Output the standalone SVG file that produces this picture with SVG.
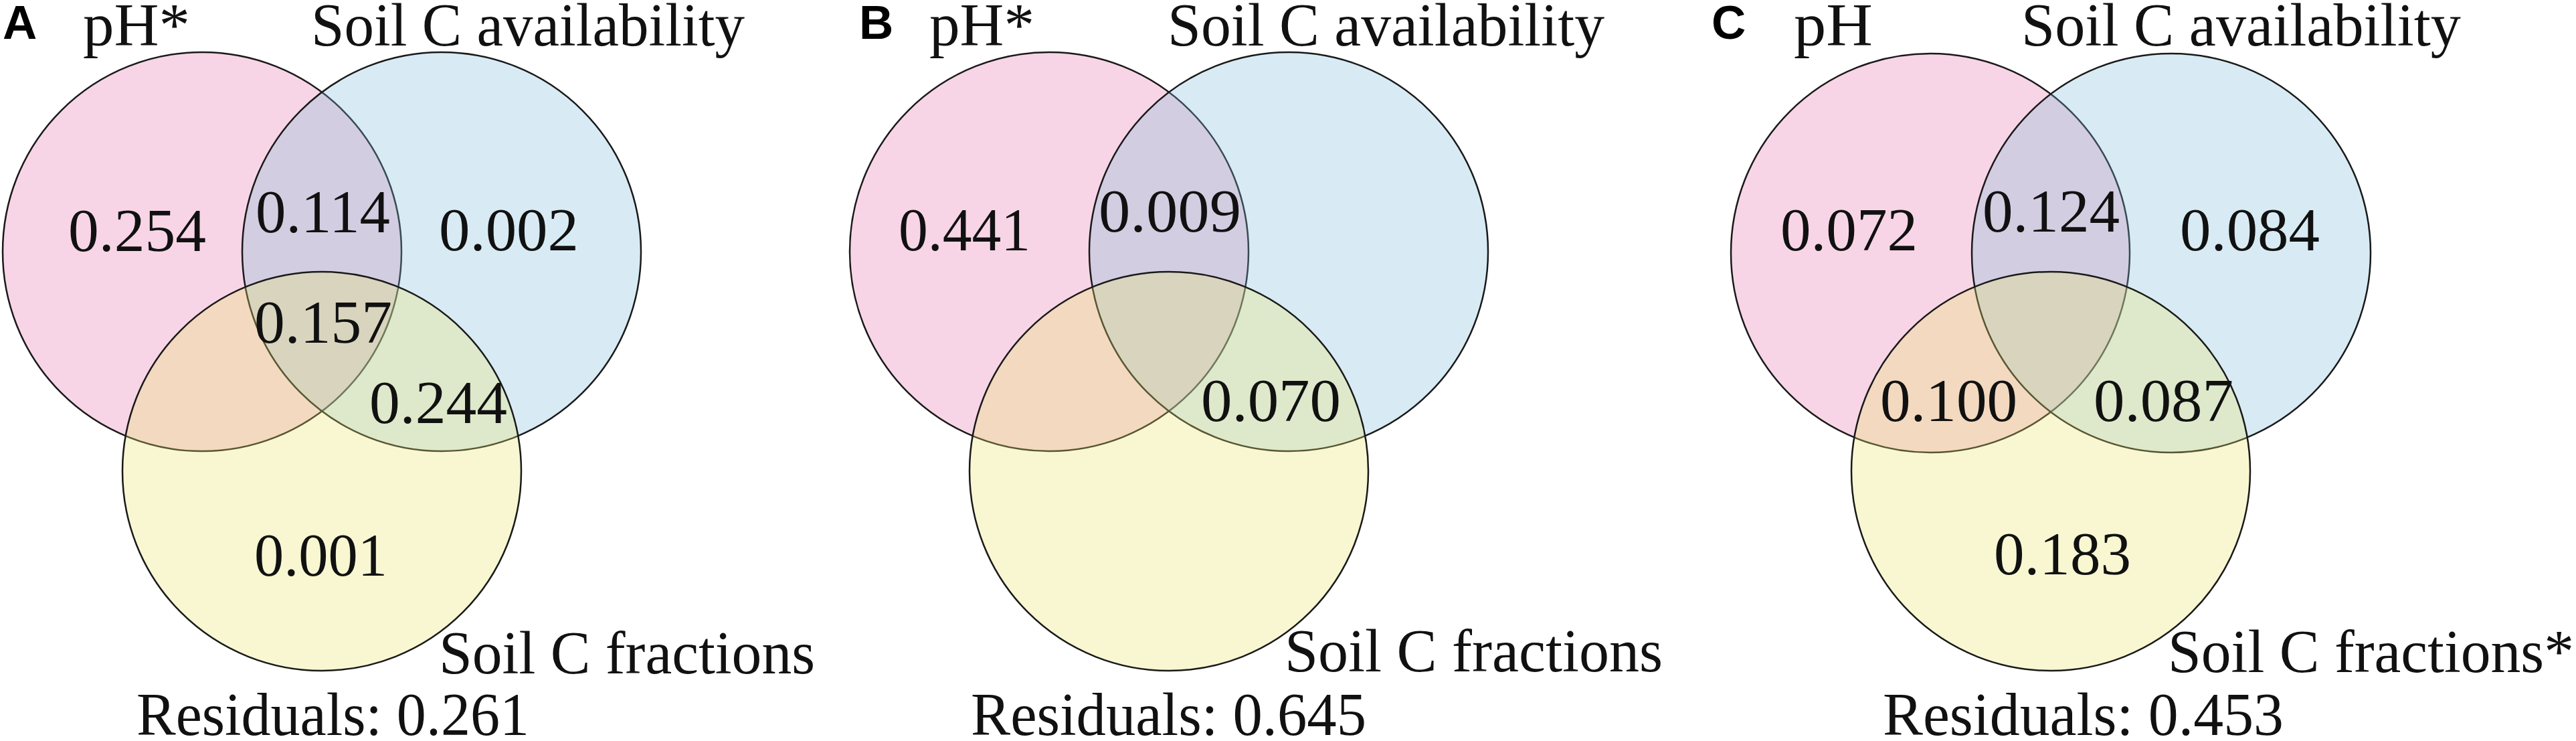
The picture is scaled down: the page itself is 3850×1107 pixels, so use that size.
<svg xmlns="http://www.w3.org/2000/svg" width="3850" height="1107" viewBox="0 0 3850 1107">
<style>
.bg{fill:#ffffff}
.c{stroke:#1a1a1a;stroke-width:2.5;fill-opacity:0.3}
.pk{fill:#e873ac}
.bl{fill:#7dbcda}
.yl{fill:#e8e469}
.t{font-family:"Liberation Serif","Times New Roman",serif;font-size:90px;fill:#111}
.n{font-family:"Liberation Serif","Times New Roman",serif;font-size:92px;fill:#111}
.p{font-family:"Liberation Sans",Arial,sans-serif;font-weight:bold;font-size:71px;fill:#000}
</style>
<rect class="bg" x="0" y="0" width="3850" height="1107"/>

<g id="panel-A">
  <g id="A-ph"><circle class="c pk" cx="302" cy="376" r="298"/></g>
  <g id="A-avail"><circle class="c bl" cx="660" cy="376" r="298"/></g>
  <g id="A-frac"><circle class="c yl" cx="481" cy="704" r="298"/></g>
  <text class="p" x="4" y="58">A</text>
  <text class="t" x="124" y="68" textLength="160" lengthAdjust="spacingAndGlyphs">pH*</text>
  <text class="t" x="465" y="68" textLength="648" lengthAdjust="spacingAndGlyphs">Soil C availability</text>
  <text class="n" x="102" y="375" textLength="206" lengthAdjust="spacingAndGlyphs">0.254</text>
  <text class="n" x="382" y="347" textLength="201" lengthAdjust="spacingAndGlyphs">0.114</text>
  <text class="n" x="656" y="374" textLength="209" lengthAdjust="spacingAndGlyphs">0.002</text>
  <text class="n" x="380" y="512" textLength="206" lengthAdjust="spacingAndGlyphs">0.157</text>
  <text class="n" x="552" y="632" textLength="206" lengthAdjust="spacingAndGlyphs">0.244</text>
  <text class="n" x="380" y="860" textLength="199" lengthAdjust="spacingAndGlyphs">0.001</text>
  <text class="t" x="656" y="1006" textLength="562" lengthAdjust="spacingAndGlyphs">Soil C fractions</text>
  <text class="t" x="204" y="1098" textLength="587" lengthAdjust="spacingAndGlyphs">Residuals: 0.261</text>
</g>

<g id="panel-B">
  <g id="B-ph"><circle class="c pk" cx="1568" cy="376" r="298"/></g>
  <g id="B-avail"><circle class="c bl" cx="1926" cy="376" r="298"/></g>
  <g id="B-frac"><circle class="c yl" cx="1747" cy="704" r="298"/></g>
  <text class="p" x="1284" y="58">B</text>
  <text class="t" x="1389" y="68" textLength="157" lengthAdjust="spacingAndGlyphs">pH*</text>
  <text class="t" x="1745" y="68" textLength="653" lengthAdjust="spacingAndGlyphs">Soil C availability</text>
  <text class="n" x="1343" y="374" textLength="197" lengthAdjust="spacingAndGlyphs">0.441</text>
  <text class="n" x="1642" y="346" textLength="213" lengthAdjust="spacingAndGlyphs">0.009</text>
  <text class="n" x="1795" y="629" textLength="209" lengthAdjust="spacingAndGlyphs">0.070</text>
  <text class="t" x="1920" y="1003" textLength="565" lengthAdjust="spacingAndGlyphs">Soil C fractions</text>
  <text class="t" x="1451" y="1098" textLength="591" lengthAdjust="spacingAndGlyphs">Residuals: 0.645</text>
</g>

<g id="panel-C">
  <g id="C-ph"><circle class="c pk" cx="2885" cy="378" r="298"/></g>
  <g id="C-avail"><circle class="c bl" cx="3245" cy="378" r="298"/></g>
  <g id="C-frac"><circle class="c yl" cx="3065" cy="704" r="298"/></g>
  <text class="p" x="2558" y="58">C</text>
  <text class="t" x="2681" y="68" textLength="118" lengthAdjust="spacingAndGlyphs">pH</text>
  <text class="t" x="3021" y="68" textLength="657" lengthAdjust="spacingAndGlyphs">Soil C availability</text>
  <text class="n" x="2661" y="374" textLength="205" lengthAdjust="spacingAndGlyphs">0.072</text>
  <text class="n" x="2963" y="346" textLength="205" lengthAdjust="spacingAndGlyphs">0.124</text>
  <text class="n" x="3258" y="374" textLength="209" lengthAdjust="spacingAndGlyphs">0.084</text>
  <text class="n" x="2810" y="629" textLength="205" lengthAdjust="spacingAndGlyphs">0.100</text>
  <text class="n" x="3129" y="629" textLength="209" lengthAdjust="spacingAndGlyphs">0.087</text>
  <text class="n" x="2980" y="858" textLength="205" lengthAdjust="spacingAndGlyphs">0.183</text>
  <text class="t" x="3240" y="1004" textLength="607" lengthAdjust="spacingAndGlyphs">Soil C fractions*</text>
  <text class="t" x="2814" y="1098" textLength="599" lengthAdjust="spacingAndGlyphs">Residuals: 0.453</text>
</g>

<g id="connectors"></g>
</svg>
